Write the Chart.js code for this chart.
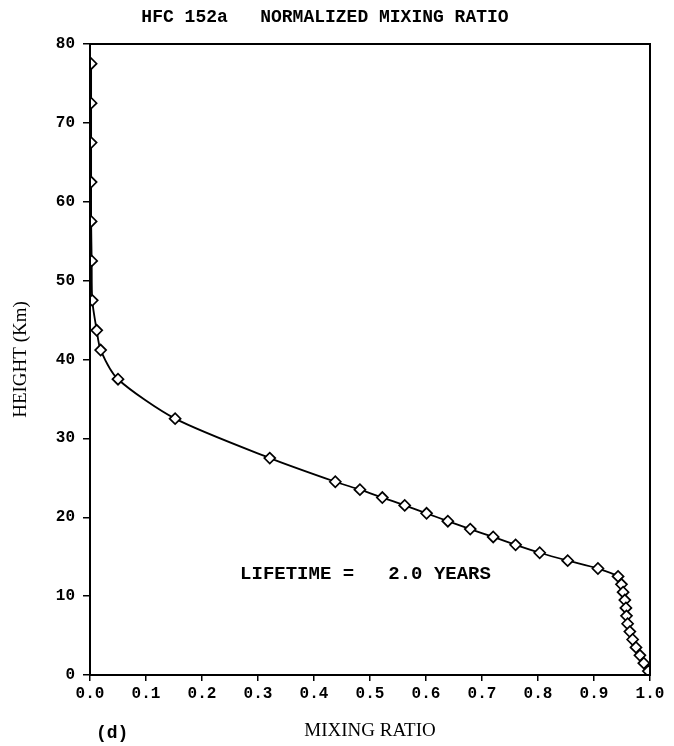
<!DOCTYPE html>
<html>
<head>
<meta charset="utf-8">
<script src="https://cdn.jsdelivr.net/npm/chart.js@4/dist/chart.umd.min.js"></script>
<style>
  html, body { margin: 0; padding: 0; background: #fff; }
  #wrap { width: 674px; height: 746px; }
</style>
</head>
<body>
<div id="wrap"><canvas id="chart" width="674" height="746"></canvas></div>
<script>
// profile: height (km) vs normalized mixing ratio
const heights = [77.5, 72.5, 67.5, 62.5, 57.5, 52.5, 47.5, 43.7, 41.2, 37.5, 32.5,
                 27.5, 24.5, 23.5, 22.5, 21.5, 20.5, 19.5, 18.5, 17.5, 16.5, 15.5,
                 14.5, 13.5, 12.5, 11.5, 10.5, 9.5, 8.5, 7.5, 6.5, 5.5, 4.5, 3.5,
                 2.5, 1.5, 0.5];
const ratios = [0.002, 0.002, 0.002, 0.002, 0.002, 0.003, 0.004, 0.012, 0.019, 0.050, 0.152,
                0.321, 0.438, 0.482, 0.522, 0.562, 0.601, 0.639, 0.679, 0.720, 0.760, 0.803,
                0.853, 0.907, 0.943, 0.949, 0.952, 0.955, 0.957, 0.958, 0.960, 0.964, 0.969,
                0.975, 0.982, 0.989, 0.997];
const xTicks = [0, 0.1, 0.2, 0.3, 0.4, 0.5, 0.6, 0.7, 0.8, 0.9, 1.0];
const yTicks = [0, 10, 20, 30, 40, 50, 60, 70, 80];

const titleText = 'HFC 152a   NORMALIZED MIXING RATIO';
const noteText = 'LIFETIME =   2.0 YEARS';
const panelText = '(d)';

const mono = '"Liberation Mono", "Courier New", monospace';
const serif = '"Liberation Serif", "Times New Roman", serif';

// frame + extra labels
const extras = {
    id: 'extras',
    afterDraw(chart) {
        const ctx = chart.ctx;
        const a = chart.chartArea;
        const xs = chart.scales.x, ys = chart.scales.y;
        ctx.save();
        ctx.strokeStyle = '#000';
        ctx.lineWidth = 2;
        ctx.strokeRect(a.left, a.top, a.right - a.left, a.bottom - a.top);

        ctx.fillStyle = '#000';
        ctx.font = 'bold 19px ' + mono;
        ctx.textAlign = 'left';
        ctx.textBaseline = 'middle';
        ctx.fillText(noteText, xs.getPixelForValue(0.268), ys.getPixelForValue(12.8));

        ctx.font = 'bold 18px ' + mono;
        ctx.fillText(panelText, a.left + 6, 733);
        ctx.restore();
    }
};

const ctx = document.getElementById('chart').getContext('2d');
new Chart(ctx, {
    type: 'scatter',
    data: {
        datasets: [{
            data: heights.map((h, i) => ({ x: ratios[i], y: h })),
            showLine: true,
            borderColor: '#000',
            borderWidth: 1.8,
            tension: 0.25,
            pointStyle: 'rectRot',
            pointRadius: 5.5,
            pointBorderWidth: 1.7,
            pointBackgroundColor: '#fff',
            pointBorderColor: '#000'
        }]
    },
    options: {
        responsive: false,
        animation: false,
        layout: { padding: { left: 0, right: 24, top: 0, bottom: 0 } },
        plugins: {
            legend: { display: false },
            tooltip: { enabled: false },
            title: {
                display: true,
                text: titleText,
                color: '#000',
                font: { family: mono, size: 18, weight: 'bold', lineHeight: 1.2 },
                padding: { top: 7, bottom: 15.4 }
            }
        },
        scales: {
            x: {
                type: 'linear',
                min: 0,
                max: 1,
                afterBuildTicks: s => { s.ticks = xTicks.map(v => ({ value: v })); },
                afterFit: s => { s.height = 71; },
                border: { display: true, color: '#000', width: 2 },
                grid: { drawOnChartArea: false, drawTicks: true, tickLength: 6, color: '#000', lineWidth: 1.5 },
                ticks: {
                    color: '#000',
                    padding: 3,
                    maxRotation: 0,
                    font: { family: mono, size: 16, weight: 'bold' },
                    callback: v => v.toFixed(1)
                },
                title: {
                    display: true,
                    text: 'MIXING RATIO',
                    color: '#000',
                    font: { family: serif, size: 19 },
                    padding: { top: 0, bottom: 4 }
                }
            },
            y: {
                type: 'linear',
                min: 0,
                max: 80,
                afterBuildTicks: s => { s.ticks = yTicks.map(v => ({ value: v })); },
                afterFit: s => { s.width = 90; },
                border: { display: true, color: '#000', width: 2 },
                grid: { drawOnChartArea: false, drawTicks: true, tickLength: 7, color: '#000', lineWidth: 1.5 },
                ticks: {
                    color: '#000',
                    padding: 8,
                    font: { family: mono, size: 16, weight: 'bold' }
                },
                title: {
                    display: true,
                    text: 'HEIGHT (Km)',
                    color: '#000',
                    font: { family: serif, size: 19 },
                    padding: { top: 10, bottom: 0 }
                }
            }
        }
    },
    plugins: [extras]
});
</script>
</body>
</html>
